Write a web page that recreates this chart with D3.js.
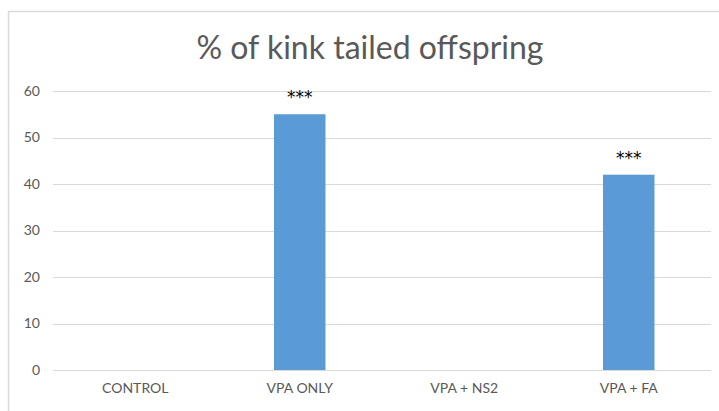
<!DOCTYPE html>
<html>
<head>
<meta charset="utf-8">
<script src="https://cdn.jsdelivr.net/npm/d3@7/dist/d3.min.js"></script>
<style>
  html, body { margin: 0; padding: 0; background: #fff; }
  svg { display: block; }
</style>
</head>
<body>
<svg id="chart" width="719" height="411"></svg>
<script>
const categories = ["CONTROL", "VPA ONLY", "VPA + NS2", "VPA + FA"];
const values = [0, 55, 0, 42];
const marks = ["", "***", "", "***"];
const yTicks = [0, 10, 20, 30, 40, 50, 60];
const title = "% of kink tailed offspring";

const svg = d3.select("#chart");
const font = "Lato, 'Open Sans', sans-serif";
const grey = "#595959";

// chart frame (runs past the right and bottom edges)
svg.append("rect")
  .attr("x", 8.5).attr("y", 11.5)
  .attr("width", 740).attr("height", 420)
  .attr("fill", "#fff").attr("stroke", "#d9d9d9").attr("stroke-width", 1.5);

const plot = { left: 53, right: 711, top: 91, bottom: 370 };

const x = d3.scaleBand()
  .domain(categories)
  .range([plot.left, plot.right])
  .paddingInner(0.687).paddingOuter(0.3435);

const y = d3.scaleLinear()
  .domain([0, 60])
  .range([plot.bottom, plot.top]);

// gridlines
svg.append("g")
  .selectAll("line")
  .data(yTicks)
  .join("line")
  .attr("x1", plot.left).attr("x2", plot.right)
  .attr("y1", d => Math.round(y(d)) + 0.5).attr("y2", d => Math.round(y(d)) + 0.5)
  .attr("stroke", "#d9d9d9").attr("stroke-width", 1);

// y axis labels
const yAxis = svg.append("g")
  .attr("transform", `translate(${plot.left - 13},0)`)
  .call(d3.axisLeft(y).tickValues(yTicks).tickSize(0).tickPadding(0));
yAxis.select(".domain").remove();
yAxis.selectAll("text")
  .attr("fill", grey).attr("font-family", font).attr("font-size", 14);

// bars
svg.append("g")
  .selectAll("rect")
  .data(values)
  .join("rect")
  .attr("x", (d, i) => x(categories[i]))
  .attr("width", x.bandwidth())
  .attr("y", d => y(d))
  .attr("height", d => y(0) - y(d))
  .attr("fill", "#5b9bd5");

// significance marks
svg.append("g")
  .selectAll("text")
  .data(values)
  .join("text")
  .attr("x", (d, i) => x(categories[i]) + x.bandwidth() / 2)
  .attr("y", d => y(d) - 11)
  .attr("text-anchor", "middle")
  .attr("font-family", "'DejaVu Sans', sans-serif").attr("font-size", 17)
  .attr("fill", "#000")
  .text((d, i) => marks[i]);

// x axis
const xAxis = svg.append("g")
  .attr("transform", `translate(0,${plot.bottom})`)
  .call(d3.axisBottom(x).tickSize(0).tickPadding(13));
xAxis.select(".domain").remove();
xAxis.selectAll("text")
  .attr("fill", grey).attr("font-family", font).attr("font-size", 14);

// title
svg.append("text")
  .attr("x", 370).attr("y", 59)
  .attr("text-anchor", "middle")
  .attr("font-family", font).attr("font-size", 32)
  .attr("fill", grey)
  .text(title);
</script>
</body>
</html>
